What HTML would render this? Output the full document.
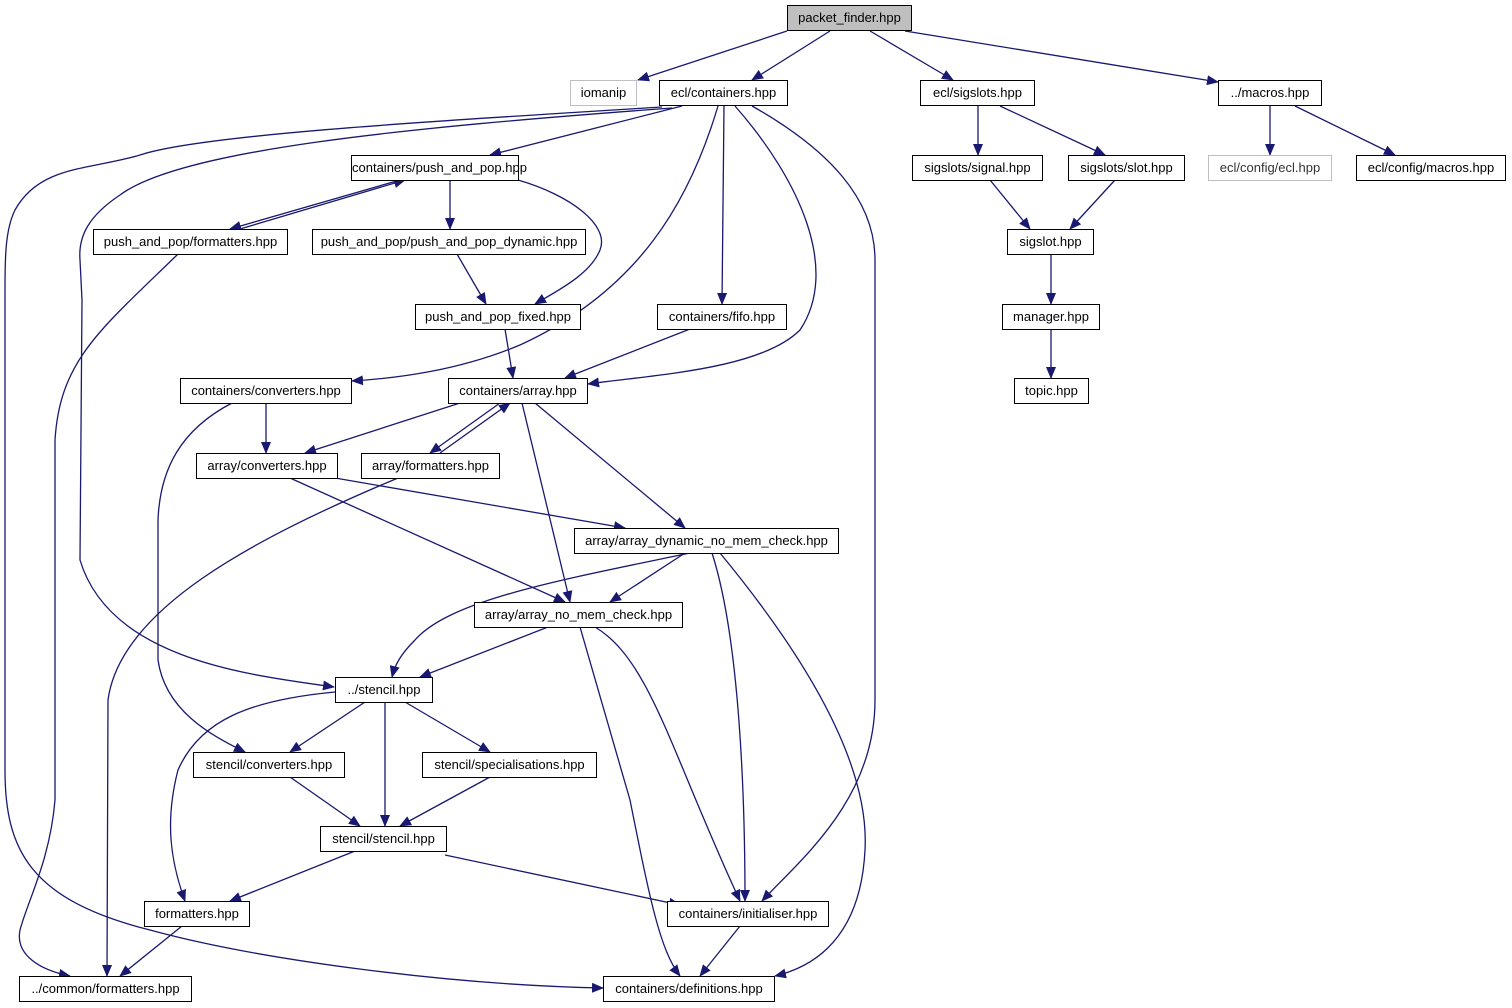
<!DOCTYPE html>
<html><head><meta charset="utf-8"><style>
body{margin:0;background:#fff;width:1512px;height:1008px;overflow:hidden;position:relative;font-family:"Liberation Sans",Helvetica,sans-serif}
svg{position:absolute;left:0;top:0}
.n{position:absolute;box-sizing:border-box;border:1.5px solid #000;background:#fff;font-size:13px;line-height:23px;text-align:center;white-space:nowrap;color:#000}
.g{border-color:#bfbfbf}
</style></head><body>
<svg width="1512" height="1008" viewBox="0 0 1512 1008">
<defs><marker id="a" markerWidth="12" markerHeight="10" refX="11" refY="5" orient="auto" markerUnits="userSpaceOnUse"><path d="M0,0 L12,5 L0,10 z" fill="#191970"/></marker></defs>
<g fill="none" stroke="#191970" stroke-width="1.3" marker-end="url(#a)">
<path d="M787,31 L638,80"/>
<path d="M830,31 L752,80"/>
<path d="M870,31 L953,80"/>
<path d="M905,31 L1218,82"/>
<path d="M978,106 L978,155"/>
<path d="M1000,106 L1105,155"/>
<path d="M1270,106 L1270,155"/>
<path d="M1295,106 L1395,155"/>
<path d="M990,180 L1030,229"/>
<path d="M1115,180 L1070,229"/>
<path d="M1051,254 L1051,304"/>
<path d="M1051,329 L1051,378"/>
<path d="M682,106 L490,155"/>
<path d="M662,107 C420,122 200,135 140,155 C90,170 40,165 15,210 C5,230 5,260 5,290 L5,770 C5,850 30,900 150,930 C260,960 450,985 603,988"/>
<path d="M672,108 C400,128 180,150 120,195 C90,215 78,235 80,260 L82,300 L80,560 C110,660 250,675 334,687"/>
<path d="M718,106 C690,200 640,290 520,345 C460,370 400,378 352,381"/>
<path d="M724,106 L722,304"/>
<path d="M735,106 C800,180 840,270 800,330 C760,370 650,375 588,384"/>
<path d="M752,106 C830,150 875,200 875,260 L875,700 C875,800 800,860 762,901"/>
<path d="M240,229 L405,180"/>
<path d="M400,180 L230,229"/>
<path d="M450,180 L450,229"/>
<path d="M518,180 C570,195 610,225 600,250 C590,275 555,292 535,304"/>
<path d="M457,254 L486,304"/>
<path d="M505,329 L513,378"/>
<path d="M690,329 L565,378"/>
<path d="M178,254 C100,330 60,360 55,440 L55,800 C50,860 28,900 20,930 C15,955 40,970 70,976"/>
<path d="M266,403 L266,453"/>
<path d="M232,403 C180,430 160,470 158,520 L158,660 C165,710 210,735 245,752"/>
<path d="M460,403 L305,453"/>
<path d="M440,453 L510,403"/>
<path d="M500,403 L430,453"/>
<path d="M535,403 L685,528"/>
<path d="M522,403 L570,602"/>
<path d="M290,478 L565,602"/>
<path d="M335,478 L625,528"/>
<path d="M398,478 C250,540 120,610 108,700 L107,976"/>
<path d="M685,553 L610,602"/>
<path d="M690,553 C560,580 450,600 415,640 C400,655 395,665 392,677"/>
<path d="M712,553 C740,640 745,800 745,901"/>
<path d="M720,553 C800,650 870,760 865,850 C860,950 800,970 775,976"/>
<path d="M548,627 L420,677"/>
<path d="M595,627 C650,660 670,750 740,901"/>
<path d="M580,627 L630,800 C650,900 660,950 680,976"/>
<path d="M335,692 C250,700 200,720 178,770 C165,820 170,860 185,901"/>
<path d="M365,702 L290,752"/>
<path d="M385,702 L385,826"/>
<path d="M405,702 L490,752"/>
<path d="M290,777 L360,826"/>
<path d="M490,777 L400,826"/>
<path d="M355,851 L230,901"/>
<path d="M445,855 L680,905"/>
<path d="M182,926 L120,976"/>
<path d="M740,926 L700,976"/>
</g>
</svg>
<div class="n" style="left:787px;top:5px;width:125px;height:26px;background:#bfbfbf">packet_finder.hpp</div>
<div class="n g" style="left:570px;top:80px;width:67px;height:26px">iomanip</div>
<div class="n" style="left:659px;top:80px;width:129px;height:26px">ecl/containers.hpp</div>
<div class="n" style="left:920px;top:80px;width:115px;height:26px">ecl/sigslots.hpp</div>
<div class="n" style="left:1218px;top:80px;width:104px;height:26px">../macros.hpp</div>
<div class="n" style="left:351px;top:155px;width:168px;height:26px">containers/push_and_pop.hpp</div>
<div class="n" style="left:912px;top:155px;width:131px;height:26px">sigslots/signal.hpp</div>
<div class="n" style="left:1068px;top:155px;width:117px;height:26px">sigslots/slot.hpp</div>
<div class="n g" style="left:1208px;top:155px;width:124px;height:26px;color:#333">ecl/config/ecl.hpp</div>
<div class="n" style="left:1356px;top:155px;width:150px;height:26px">ecl/config/macros.hpp</div>
<div class="n" style="left:93px;top:229px;width:195px;height:26px">push_and_pop/formatters.hpp</div>
<div class="n" style="left:312px;top:229px;width:274px;height:26px">push_and_pop/push_and_pop_dynamic.hpp</div>
<div class="n" style="left:1007px;top:229px;width:87px;height:26px">sigslot.hpp</div>
<div class="n" style="left:415px;top:304px;width:166px;height:26px">push_and_pop_fixed.hpp</div>
<div class="n" style="left:657px;top:304px;width:130px;height:26px">containers/fifo.hpp</div>
<div class="n" style="left:1002px;top:304px;width:98px;height:26px">manager.hpp</div>
<div class="n" style="left:180px;top:378px;width:172px;height:26px">containers/converters.hpp</div>
<div class="n" style="left:448px;top:378px;width:140px;height:26px">containers/array.hpp</div>
<div class="n" style="left:1014px;top:378px;width:75px;height:26px">topic.hpp</div>
<div class="n" style="left:196px;top:453px;width:142px;height:26px">array/converters.hpp</div>
<div class="n" style="left:361px;top:453px;width:139px;height:26px">array/formatters.hpp</div>
<div class="n" style="left:574px;top:528px;width:265px;height:26px">array/array_dynamic_no_mem_check.hpp</div>
<div class="n" style="left:474px;top:602px;width:209px;height:26px">array/array_no_mem_check.hpp</div>
<div class="n" style="left:335px;top:677px;width:98px;height:26px">../stencil.hpp</div>
<div class="n" style="left:193px;top:752px;width:152px;height:26px">stencil/converters.hpp</div>
<div class="n" style="left:422px;top:752px;width:175px;height:26px">stencil/specialisations.hpp</div>
<div class="n" style="left:320px;top:826px;width:127px;height:26px">stencil/stencil.hpp</div>
<div class="n" style="left:144px;top:901px;width:106px;height:26px">formatters.hpp</div>
<div class="n" style="left:667px;top:901px;width:162px;height:26px">containers/initialiser.hpp</div>
<div class="n" style="left:19px;top:976px;width:173px;height:26px">../common/formatters.hpp</div>
<div class="n" style="left:603px;top:976px;width:172px;height:26px">containers/definitions.hpp</div>
</body></html>
